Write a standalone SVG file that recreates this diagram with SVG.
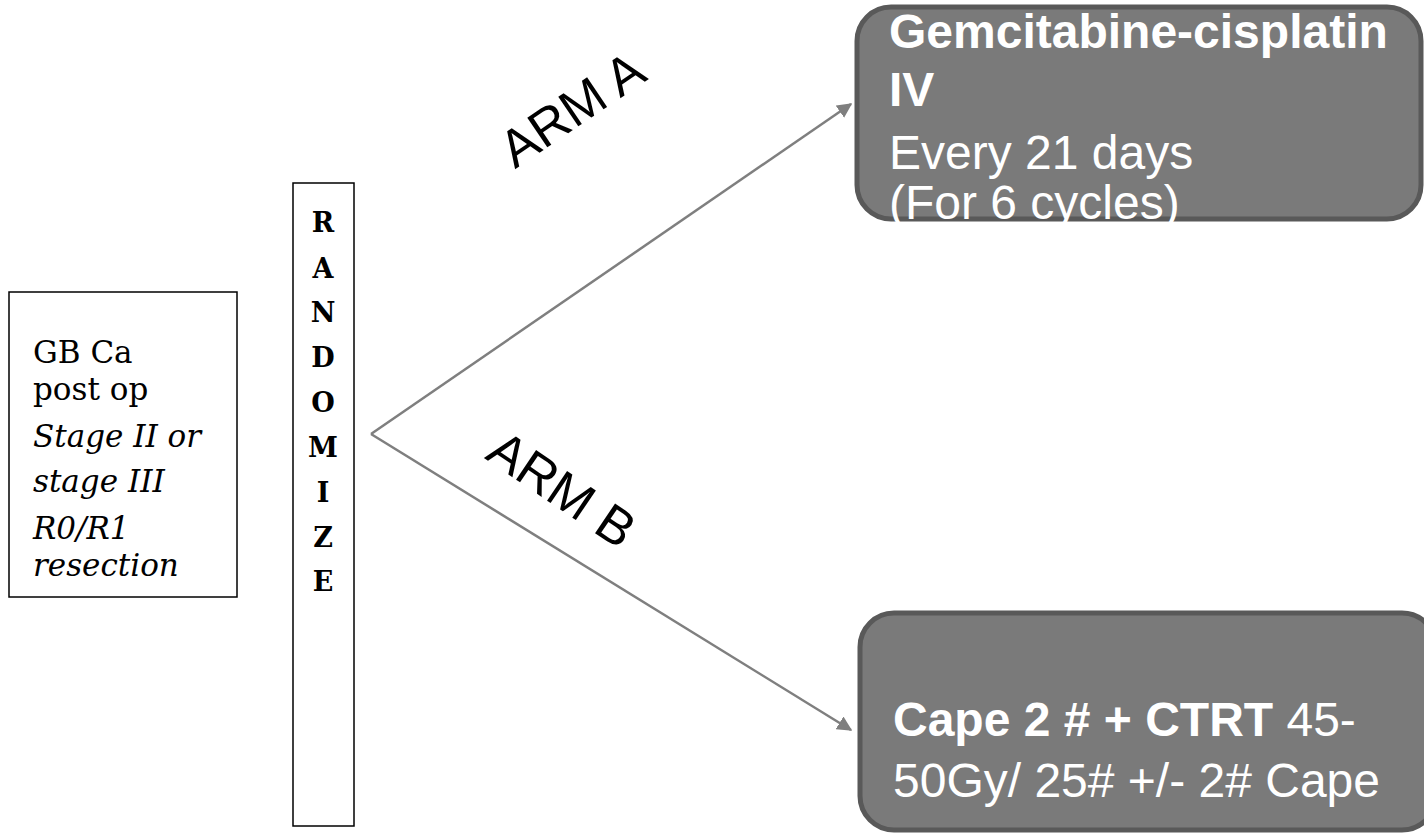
<svg xmlns="http://www.w3.org/2000/svg" width="1424" height="834" viewBox="0 0 1424 834">
<defs>
<style>
.box{fill:#ffffff;stroke:#000000;stroke-width:1.5}
.tx{fill:#000000;font-family:"DejaVu Serif","Liberation Serif",serif;font-size:31px}
.it{font-style:italic}
.rl{font-family:"DejaVu Serif","Liberation Serif",serif;font-weight:bold;font-size:27px;fill:#000000;text-anchor:middle}
.arm{fill:#7a7a7a;stroke:#595959;stroke-width:5}
.wt{fill:#ffffff;font-family:"Liberation Sans",Arial,sans-serif;font-size:48px}
.b{font-weight:bold}
.lbl{fill:#000000;font-family:"Liberation Sans",Arial,sans-serif;font-size:52px;text-anchor:middle}
.conn{stroke:#7f7f7f;stroke-width:2.5;fill:none;marker-end:url(#ah)}
</style>
<marker id="ah" viewBox="0 0 10 10" refX="9" refY="5" markerWidth="6" markerHeight="6" markerUnits="strokeWidth" orient="auto">
<path d="M0,0 L10,5 L0,10 z" fill="#7f7f7f"/>
</marker>
<clipPath id="cA"><rect x="855" y="0" width="569" height="223"/></clipPath>
</defs>
<g id="connectors">
<line class="conn" x1="371" y1="434" x2="851" y2="104"/>
<line class="conn" x1="371" y1="434" x2="851" y2="730"/>
</g>
<g id="patients">
<rect class="box" x="9" y="292" width="228" height="305"/>
<text class="tx" x="33" y="363">GB Ca</text>
<text class="tx" x="33" y="400">post op</text>
<text class="tx it" x="33" y="447">Stage II or</text>
<text class="tx it" x="33" y="492">stage III</text>
<text class="tx it" x="33" y="539">R0/R1</text>
<text class="tx it" x="33" y="576">resection</text>
</g>
<g id="randomize">
<rect class="box" x="293" y="183" width="61" height="643"/>
<text class="rl" x="323" y="232">R</text>
<text class="rl" x="323" y="278">A</text>
<text class="rl" x="323" y="322">N</text>
<text class="rl" x="323" y="367">D</text>
<text class="rl" x="323" y="412">O</text>
<text class="rl" x="323" y="457">M</text>
<text class="rl" x="323" y="502">I</text>
<text class="rl" x="323" y="547">Z</text>
<text class="rl" x="323" y="591">E</text>
</g>
<g id="armA">
<rect class="arm" x="857" y="7" width="564" height="212" rx="34"/>
<g clip-path="url(#cA)">
<text class="wt b" x="889" y="48">Gemcitabine-cisplatin</text>
<text class="wt b" x="889" y="106">IV</text>
<text class="wt" x="889" y="169">Every 21 days</text>
<text class="wt" x="889" y="219">(For 6 cycles)</text>
</g>
</g>
<g id="armB">
<rect class="arm" x="860" y="613" width="576" height="217" rx="34"/>
<text class="wt" x="893" y="736"><tspan class="b">Cape 2 # + CTRT</tspan> 45-</text>
<text class="wt" x="893" y="797">50Gy/ 25# +/- 2# Cape</text>
</g>
<g id="labels">
<text class="lbl" transform="translate(582,124) rotate(-34)">ARM A</text>
<text class="lbl" transform="translate(552,504) rotate(34)">ARM B</text>
</g>
</svg>
